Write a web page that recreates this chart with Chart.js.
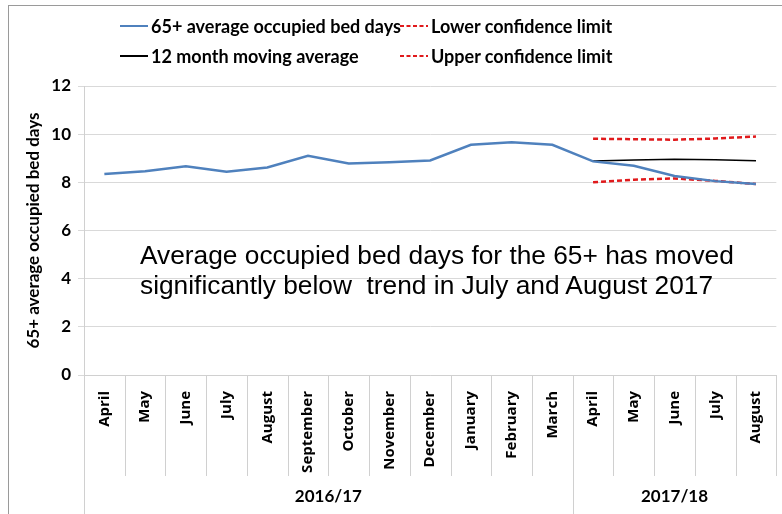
<!DOCTYPE html>
<html>
<head>
<meta charset="utf-8">
<title>65+ average occupied bed days</title>
<script src="https://cdn.jsdelivr.net/npm/chart.js@4.4.1/dist/chart.umd.min.js"></script>
<style>
  html, body { margin: 0; padding: 0; background: #fff; overflow: hidden; }
  #wrap { position: relative; width: 782px; height: 514px; }
  #frame { position: absolute; left: 8px; top: 5px; width: 800px; height: 600px;
           border-top: 1.5px solid #9a9a9a; border-left: 1.5px solid #9a9a9a; }
  #chart { position: absolute; left: 0; top: 0; }
  #legend { position: absolute; left: 0; top: 0; font: bold 18px Lato, "Noto Sans", sans-serif; color: #000; }
  .item { position: absolute; height: 20px; display: flex; align-items: center; white-space: nowrap; }
  .item svg { margin-right: 3px; }
  #note { position: absolute; left: 140px; top: 240px; font: 26.3px "Liberation Sans", Arial, sans-serif;
          line-height: 30px; color: #000; white-space: pre; }
</style>
</head>
<body>
<div id="wrap">
  <div id="frame"></div>
  <canvas id="chart" width="782" height="514"></canvas>
  <div id="legend"></div>
  <div id="note">Average occupied bed days for the 65+ has moved
significantly below  trend in July and August 2017</div>
</div>
<script>
// months, two financial years
const months = ["April","May","June","July","August","September","October","November","December",
                "January","February","March","April","May","June","July","August"];
const years = [["2016/17", 0, 12], ["2017/18", 12, 17]];   // label, first index, end index
const yTicks = [0, 2, 4, 6, 8, 10, 12];

const bedDays   = [8.35, 8.46, 8.67, 8.44, 8.62, 9.10, 8.78, 8.83, 8.91, 9.56, 9.66, 9.56,
                   8.87, 8.69, 8.26, 8.05, 7.93];
const movingAvg = [null,null,null,null,null,null,null,null,null,null,null,null,
                   8.89, 8.93, 8.96, 8.94, 8.90];
const lowerCL   = [null,null,null,null,null,null,null,null,null,null,null,null,
                   8.00, 8.11, 8.16, 8.06, 7.93];
const upperCL   = [null,null,null,null,null,null,null,null,null,null,null,null,
                   9.81, 9.79, 9.77, 9.82, 9.90];

const BLUE = "#4f81bd", RED = "#e0191b";

// dividers under the axis + year row
const groupAxis = {
  id: "groupAxis",
  afterDraw(chart) {
    const x = chart.scales.x, ctx = chart.ctx;
    const w = (x.right - x.left) / months.length;
    const top = chart.chartArea.bottom;
    ctx.save();
    ctx.strokeStyle = "#d0d0d0";
    ctx.lineWidth = 1;
    for (let i = 0; i <= months.length; i++) {
      const px = Math.round(x.left + i * w) + 0.5;
      const isYear = years.some(y => y[1] === i);
      ctx.beginPath();
      ctx.moveTo(px, top);
      ctx.lineTo(px, isYear ? 514 : top + 101);
      ctx.stroke();
    }
    ctx.fillStyle = "#000";
    ctx.font = "bold 17px Lato, 'Noto Sans', sans-serif";
    ctx.textAlign = "center";
    ctx.textBaseline = "middle";
    years.forEach(([lab, a, b]) => {
      const cx = x.left + (a + b) / 2 * w;
      ctx.fillText(lab, cx, 497);
    });
    ctx.restore();
  }
};

const chart = new Chart(document.getElementById("chart"), {
  type: "line",
  data: {
    labels: months,
    datasets: [
      { label: "65+ average occupied bed days", data: bedDays, borderColor: BLUE, borderWidth: 2.5 },
      { label: "Lower confidence limit", data: lowerCL, borderColor: RED, borderWidth: 2.5, borderDash: [5, 3] },
      { label: "12 month moving average", data: movingAvg, borderColor: "#000", borderWidth: 1.5 },
      { label: "Upper confidence limit", data: upperCL, borderColor: RED, borderWidth: 2.5, borderDash: [5, 3] }
    ]
  },
  options: {
    responsive: false,
    animation: false,
    spanGaps: false,
    elements: { point: { radius: 0 }, line: { tension: 0 } },
    layout: { padding: { top: 86, right: 1, left: 0, bottom: 0 } },
    plugins: { legend: { display: false }, tooltip: { enabled: false } },
    scales: {
      x: {
        offset: true,
        grid: { display: false },
        border: { display: true, color: "#d0d0d0" },
        ticks: {
          autoSkip: false, minRotation: 90, maxRotation: 90, padding: 8, color: "#000",
          font: { family: "'Open Sans', 'Noto Sans', sans-serif", weight: "bold", size: 15 }
        },
        afterFit(s) { s.height = 139; }
      },
      y: {
        min: 0, max: 12,
        afterBuildTicks(s) { s.ticks = yTicks.map(v => ({ value: v })); },
        grid: { color: "#d9d9d9", tickLength: 6 },
        border: { display: true, color: "#d0d0d0" },
        ticks: { padding: 7, color: "#000", font: { family: "Lato, 'Noto Sans', sans-serif", weight: "bold", size: 17 } },
        title: {
          display: true, text: "65+ average occupied bed days", color: "#000",
          padding: { top: 23, bottom: 0 },
          font: { family: "Lato, 'Noto Sans', sans-serif", weight: "bold", size: 17 }
        },
        afterFit(s) { s.width = 84; }
      }
    }
  },
  plugins: [groupAxis]
});

// HTML legend, two rows of two
const legendPos = [[120, 16], [400, 16], [120, 46], [400, 46]];
const legend = document.getElementById("legend");
chart.data.datasets.forEach((ds, i) => {
  const el = document.createElement("div");
  el.className = "item";
  el.style.left = legendPos[i][0] + "px";
  el.style.top = legendPos[i][1] + "px";
  const dash = ds.borderDash ? `stroke-dasharray="4 2.5"` : "";
  el.innerHTML = `<svg width="28" height="6"><line x1="0" y1="3" x2="28" y2="3" stroke="${ds.borderColor}" stroke-width="2" ${dash}/></svg>`;
  const span = document.createElement("span");
  span.textContent = ds.label;
  el.appendChild(span);
  legend.appendChild(el);
});
</script>
</body>
</html>
